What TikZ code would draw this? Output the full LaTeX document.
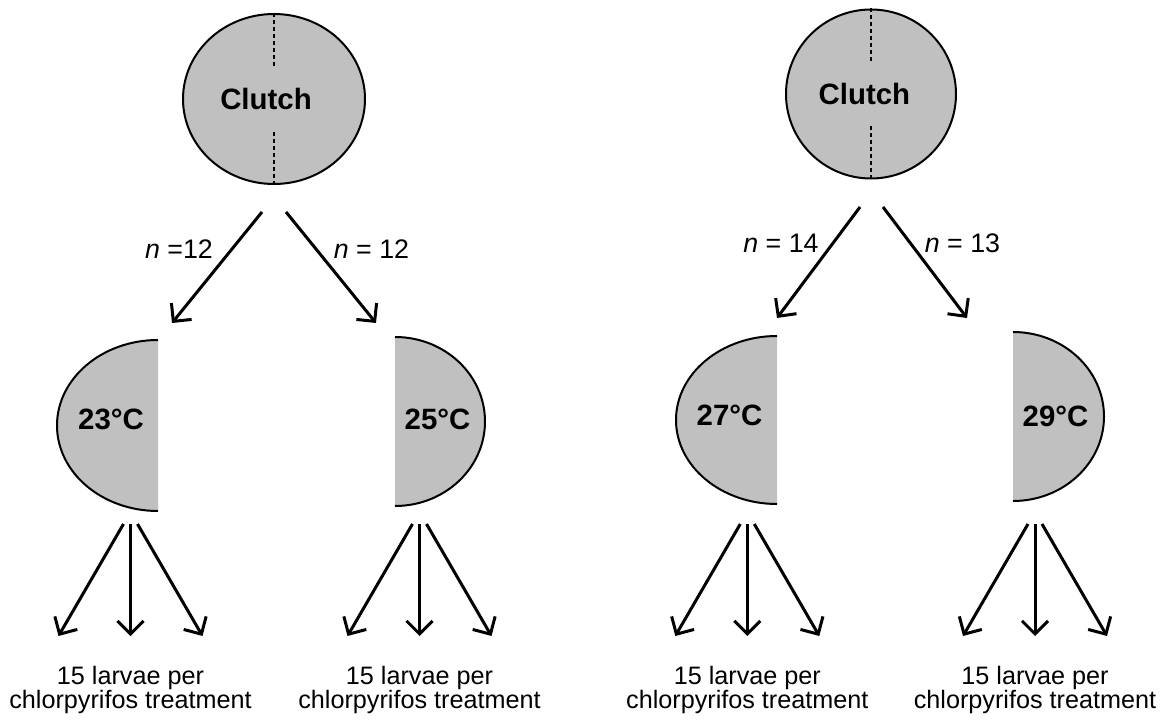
\documentclass[tikz,border=0pt]{standalone}
\usepackage{fontspec}
\setmainfont{Liberation Sans}
\usepackage{tikz}
\usetikzlibrary{arrows.meta,shapes.geometric}
\definecolor{eggfill}{HTML}{C0C0C0}
\tikzset{
  clutch/.style={ellipse, draw, line width=1pt, fill=eggfill, inner sep=0},
  split/.style={line width=0.6pt, dash pattern=on 2pt off 1.5pt},
  flow/.style={line width=1.5pt, -{Straight Barb[length=6.5pt,width=13pt]}},
  temp/.style={font=\bfseries\fontsize{14.7}{17}\selectfont},
  count/.style={font=\fontsize{13.4}{16}\selectfont},
  larvae/.style={font=\fontsize{12.6}{12}\selectfont, align=center, inner sep=0}
}

\begin{document}
\begin{tikzpicture}[x=0.5pt,y=0.5pt]
\useasboundingbox (0,0) rectangle (1163,719);
                \node[clutch, minimum width=91pt, minimum height=85pt](CL) at (274,620) {};
                \node[clutch, minimum width=85pt, minimum height=84.5pt](CR) at (871,625) {};
                \node[temp](clutchL) at ([xshift=-4pt]CL.center) {Clutch};
                \node[temp](clutchR) at ([xshift=-3.3pt]CR.center) {Clutch};
\draw[split] (CL.north) -- ++(0,-56);
\draw[split] (CL.south) -- ++(0,56);
\draw[split] (CR.north) -- ++(0,-55);
\draw[split] (CR.south) -- ++(0,56);

% halves, cut side left open
\fill[eggfill] (158,379) arc[start angle=90, end angle=270, x radius=101, y radius=85.5] -- cycle;
\draw[line width=1pt] (158,379) arc[start angle=90, end angle=270, x radius=101, y radius=85.5];
\fill[eggfill] (395,382) arc[start angle=90, end angle=-90, x radius=90, y radius=84.5] -- cycle;
\draw[line width=1pt] (395,382) arc[start angle=90, end angle=-90, x radius=90, y radius=84.5];
\fill[eggfill] (777,383) arc[start angle=90, end angle=270, x radius=101, y radius=84] -- cycle;
\draw[line width=1pt] (777,383) arc[start angle=90, end angle=270, x radius=101, y radius=84];
\fill[eggfill] (1013,387) arc[start angle=90, end angle=-90, x radius=91, y radius=84.5] -- cycle;
\draw[line width=1pt] (1013,387) arc[start angle=90, end angle=-90, x radius=91, y radius=84.5];
                \node[temp](T23) at (111,300) {23°C};
                \node[temp](T25) at (437.5,300) {25°C};
                \node[temp](T27) at (729.5,303.5) {27°C};
                \node[temp](T29) at (1055.5,303) {29°C};

\coordinate (aL) at (262,507); \coordinate (to23) at (172,396);
\coordinate (bL) at (286,507); \coordinate (to25) at (376,396);
\coordinate (aR) at (860,512); \coordinate (to27) at (777,401);
\coordinate (bR) at (883,512); \coordinate (to29) at (967,401);
\draw[flow] (aL) -- (to23);
\draw[flow] (bL) -- (to25);
\draw[flow] (aR) -- (to27);
\draw[flow] (bR) -- (to29);
                                    \node[count](n23) at (179,470) {\textit{n} =12};
                                    \node[count](n25) at (371.5,470) {\textit{n} = 12};
                                    \node[count](n27) at (781,476) {\textit{n} = 14};
                                    \node[count](n29) at (962.5,476) {\textit{n} = 13};

\foreach \xc/\nm in {130.5/23, 419.5/25, 747.3/27, 1035/29}{
  \foreach \d/\k in {-1/a, 0/b, 1/c}{
    \coordinate (s\nm\k) at (\xc+7*\d,195);
    \coordinate (e\nm\k) at (\xc+72*\d,83);
    \draw[flow] (s\nm\k) -- (e\nm\k);
  }
  \node[larvae, anchor=north](L\nm) at (\xc,53) {15 larvae per\\chlorpyrifos treatment};
}
        \end{tikzpicture}
\end{document}
